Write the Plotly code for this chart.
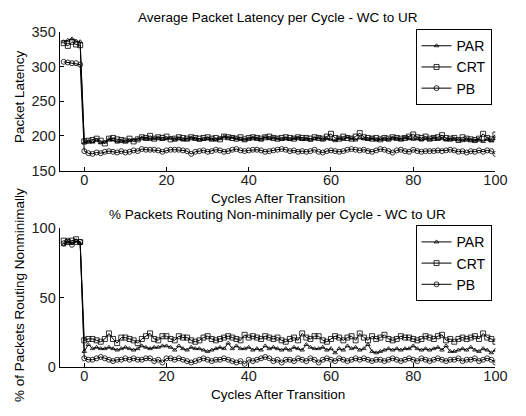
import plotly.graph_objects as go

cycles = list(range(-5, 101))

lat_par = [336, 338, 340, 337, 336,
           190, 192, 191, 194, 190, 191, 195, 194, 191, 193, 192, 193, 194, 195, 197, 196, 195, 196, 197, 195,
           196, 197, 195, 196, 194, 195, 197, 196, 194, 195, 196, 195, 194, 196, 199, 197, 198, 196, 195, 194,
           196, 197, 196, 195, 198, 196, 197, 196, 195, 196, 195, 196, 197, 195, 196, 194, 196, 197, 195, 196,
           195, 193, 196, 195, 198, 196, 194, 197, 196, 195, 196, 194, 195, 196, 195, 197, 196, 195, 197, 196,
           195, 196, 194, 196, 195, 197, 195, 196, 194, 195, 196, 194, 193, 195, 194, 193, 195, 192, 196, 193, 196]
lat_crt = [334, 330, 336, 332, 331,
           192, 193, 194, 196, 193, 189, 196, 197, 195, 194, 193, 196, 192, 195, 198, 197, 200, 196, 198, 197,
           199, 195, 196, 198, 197, 196, 198, 197, 196, 197, 198, 196, 197, 195, 199, 198, 197, 196, 198, 195,
           197, 198, 197, 196, 198, 199, 197, 196, 197, 198, 197, 196, 198, 197, 197, 196, 198, 197, 196, 199,
           203, 197, 196, 199, 197, 196, 199, 204, 198, 197, 196, 197, 195, 197, 196, 198, 197, 196, 197, 199,
           202, 198, 197, 199, 196, 197, 198, 201, 197, 196, 197, 194, 198, 196, 195, 194, 196, 203, 197, 195, 202]
lat_pb = [307, 306, 305, 305, 303,
          178, 175, 174, 176, 175, 177, 178, 177, 176, 178, 176, 177, 179, 178, 181, 180, 180, 180, 179, 177,
          179, 180, 180, 180, 179, 178, 174, 177, 178, 179, 177, 178, 180, 179, 177, 178, 180, 181, 179, 178,
          179, 180, 180, 179, 177, 178, 179, 180, 181, 180, 178, 179, 177, 178, 177, 178, 180, 177, 176, 178,
          179, 178, 177, 178, 180, 181, 180, 179, 180, 178, 177, 179, 181, 180, 178, 176, 179, 180, 178, 177,
          180, 178, 177, 178, 178, 178, 179, 178, 179, 180, 179, 177, 178, 176, 178, 177, 179, 177, 179, 178, 174]

nm_par = [88, 90, 89, 91, 89,
          11, 16, 13, 14, 13, 13, 14, 13, 12, 13, 14, 13, 12, 13, 15, 14, 13, 14, 14, 15,
          15, 14, 12, 15, 13, 12, 14, 13, 13, 12, 11, 12, 13, 14, 13, 17, 13, 15, 13, 13,
          14, 12, 13, 12, 15, 13, 14, 13, 12, 13, 12, 14, 13, 12, 16, 14, 13, 13, 14, 12,
          13, 10, 13, 12, 15, 13, 14, 12, 13, 16, 11, 10, 11, 12, 13, 12, 13, 12, 13, 13,
          15, 13, 12, 13, 12, 13, 14, 12, 15, 11, 11, 12, 13, 12, 14, 12, 11, 13, 12, 10, 12]
nm_crt = [91, 90, 91, 92, 90,
          19, 20, 20, 19, 18, 20, 24, 20, 17, 21, 21, 20, 19, 17, 20, 22, 24, 20, 19, 22,
          22, 20, 19, 22, 21, 21, 19, 18, 19, 21, 22, 20, 19, 20, 21, 22, 21, 20, 19, 23,
          21, 22, 21, 20, 22, 21, 20, 21, 19, 18, 20, 21, 19, 24, 21, 20, 22, 22, 19, 18,
          20, 22, 21, 19, 21, 22, 19, 24, 21, 19, 22, 20, 21, 23, 20, 19, 20, 22, 21, 21,
          20, 19, 20, 22, 21, 20, 22, 23, 19, 20, 18, 20, 21, 20, 21, 22, 20, 24, 21, 20, 18]
nm_pb = [89, 91, 88, 90, 90,
         6, 5, 5, 6, 7, 6, 5, 4, 5, 5, 6, 5, 6, 5, 5, 6, 6, 4, 5, 3,
         6, 6, 5, 6, 5, 4, 3, 4, 5, 6, 5, 4, 5, 5, 6, 5, 4, 3, 4, 2,
         5, 4, 5, 6, 7, 6, 4, 5, 3, 5, 5, 4, 6, 5, 4, 6, 5, 3, 5, 6,
         5, 4, 6, 5, 4, 5, 6, 5, 6, 5, 4, 5, 5, 4, 5, 6, 5, 4, 5, 6,
         5, 4, 6, 5, 4, 5, 6, 5, 4, 5, 5, 6, 4, 5, 5, 6, 4, 5, 6, 5, 3]

names = ["PAR", "CRT", "PB"]
symbols = ["triangle-up-open", "square-open", "circle-open"]
sizes = [4, 5, 5]

FONT = "Liberation Sans, Arial, sans-serif"

fig = go.Figure()
for name, sym, sz, ys in zip(names, symbols, sizes, [lat_par, lat_crt, lat_pb]):
    fig.add_trace(go.Scatter(x=cycles, y=ys, name=name, mode="lines+markers",
                             line=dict(color="black", width=1),
                             marker=dict(symbol=sym, size=sz, color="black", line=dict(width=0.8, color="black")),
                             xaxis="x", yaxis="y", legend="legend"))
for name, sym, sz, ys in zip(names, symbols, sizes, [nm_par, nm_crt, nm_pb]):
    fig.add_trace(go.Scatter(x=cycles, y=ys, name=name, mode="lines+markers",
                             line=dict(color="black", width=1),
                             marker=dict(symbol=sym, size=sz, color="black", line=dict(width=0.8, color="black")),
                             xaxis="x2", yaxis="y2", legend="legend2"))

axis_common = dict(showline=True, linecolor="black", linewidth=1, ticks="inside", ticklen=4,
                   tickcolor="black", showgrid=False, zeroline=False, mirror=False,
                   tickfont=dict(size=14.5, color="#222", family=FONT))

xd = [61 / 526, 507 / 526]
leg_common = dict(xanchor="right", yanchor="top", bgcolor="white",
                  bordercolor="black", borderwidth=1, font=dict(size=14, family=FONT),
                  tracegroupgap=0, itemwidth=30)
fig.update_layout(
    width=526, height=416, margin=dict(l=0, r=0, t=0, b=0),
    paper_bgcolor="white", plot_bgcolor="white",
    font=dict(family=FONT, color="black", size=12),
    xaxis=dict(domain=xd, range=[-6, 100], tickvals=[0, 20, 40, 60, 80, 100], anchor="y",
               ticklabelstandoff=-4, **axis_common),
    yaxis=dict(domain=[1 - 169 / 416, 1 - 25 / 416], range=[150, 350], tickvals=[150, 200, 250, 300, 350],
               anchor="x", **axis_common),
    xaxis2=dict(domain=xd, range=[-6, 100], tickvals=[0, 20, 40, 60, 80, 100], anchor="y2",
                ticklabelstandoff=-4, **axis_common),
    yaxis2=dict(domain=[1 - 373 / 416, 1 - 229 / 416], range=[0, 100], tickvals=[0, 50, 100],
                anchor="x2", **axis_common),
    legend=dict(x=503 / 526, y=1 - 22 / 416, **leg_common),
    legend2=dict(x=503 / 526, y=1 - 226 / 416, **leg_common),
    showlegend=True,
)

ann = dict(xref="paper", yref="paper", showarrow=False, font=dict(size=13.5, family=FONT, color="black"))
cx = (61 + 507) / 2 / 526
fig.add_annotation(text="Average Packet Latency per Cycle - WC to UR", x=cx, y=1 - 10 / 416,
                   xanchor="center", yanchor="middle", **ann)
fig.add_annotation(text="Cycles After Transition", x=cx, y=1 - 198 / 416, xanchor="center", yanchor="middle", **ann)
fig.add_annotation(text="% Packets Routing Non-minimally per Cycle - WC to UR", x=cx, y=1 - 215 / 416,
                   xanchor="center", yanchor="middle", **ann)
fig.add_annotation(text="Cycles After Transition", x=cx, y=1 - 402 / 416, xanchor="center", yanchor="middle", **ann)
fig.add_annotation(text="Packet Latency", x=20 / 526, y=1 - 92 / 416, textangle=-90,
                   xanchor="center", yanchor="middle", **ann)
fig.add_annotation(text="% of Packets Routing Nonminimally", x=20 / 526, y=1 - 299 / 416, textangle=-90,
                   xanchor="center", yanchor="middle", **ann)

fig.write_html("out.html")
